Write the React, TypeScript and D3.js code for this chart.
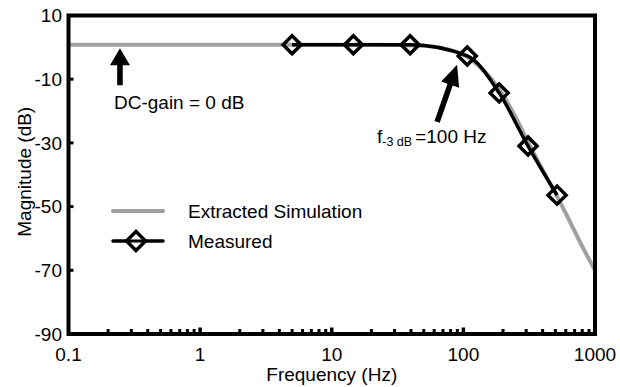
import React from "react";
import * as d3 from "d3";

// ---- data ----
const simFreq = [0.1, 1, 10, 20, 50, 70, 90, 107, 130, 160, 200, 250, 310, 400, 515, 650, 800, 1000];
const simMag = [0.8, 0.8, 0.8, 0.8, 0.5, -0.3, -1.5, -3, -5.7, -9.5, -15, -22, -29.8, -38.5, -46.8, -55, -62.5, -70];
const measFreq = [5, 14.6, 39.4, 107, 187, 310, 515];
const measMag = [0.8, 0.8, 0.8, -2.7, -14.3, -31, -46.4];
const xTickVals = [0.1, 1, 10, 100, 1000];
const xTickLabels = ["0.1", "1", "10", "100", "1000"];
const yTickVals = [10, -10, -30, -50, -70, -90];
const yTickLabels = ["10", "-10", "-30", "-50", "-70", "-90"];
const legendLabels = ["Extracted Simulation", "Measured"];

const W = 620, H = 387;
const FONT = "'Liberation Sans', Arial, Helvetica, sans-serif";

function arrowPath(tx: number, ty: number, sx: number, sy: number, headLen: number, headHalf: number, shaftHalf: number) {
  const dx = tx - sx, dy = ty - sy;
  const L = Math.hypot(dx, dy);
  const ux = dx / L, uy = dy / L;
  const px = -uy, py = ux;
  const bx = tx - ux * headLen, by = ty - uy * headLen;
  const pts = [
    [tx, ty],
    [bx + px * headHalf, by + py * headHalf],
    [bx + px * shaftHalf, by + py * shaftHalf],
    [sx + px * shaftHalf, sy + py * shaftHalf],
    [sx - px * shaftHalf, sy - py * shaftHalf],
    [bx - px * shaftHalf, by - py * shaftHalf],
    [bx - px * headHalf, by - py * headHalf],
  ];
  return "M" + pts.map((p) => p.join(",")).join("L") + "Z";
}

export default function App() {
  const x = d3.scaleLog().domain([0.1, 1000]).range([68.5, 595]);
  const y = d3.scaleLinear().domain([-90, 10]).range([334, 15.5]);

  const simData = simFreq.map((f, i) => [f, simMag[i]] as [number, number]);
  const measData = measFreq.map((f, i) => [f, measMag[i]] as [number, number]);

  const line = d3
    .line<[number, number]>()
    .x((d) => x(d[0]))
    .y((d) => y(d[1]))
    .curve(d3.curveMonotoneX);

  const minor: number[] = [];
  [0.1, 1, 10, 100].forEach((dec) => {
    for (let k = 2; k <= 9; k++) minor.push(dec * k);
  });
  const decades = [1, 10, 100];

  const diamond = (cx: number, cy: number, r: number) =>
    `M${cx},${cy - r}L${cx + r},${cy}L${cx},${cy + r}L${cx - r},${cy}Z`;

  const left = x.range()[0], right = x.range()[1];
  const top = y.range()[1], bottom = y.range()[0];

  const dcTipX = x(0.246), dcTipY = y(0) + 1;
  const f3TipX = x(89.6), f3TipY = y(-5.5);

  return (
    <svg width={W} height={H} style={{ position: "absolute", left: 0, top: 0, background: "#fff" }} fontFamily={FONT}>
      <rect x={0} y={0} width={W} height={H} fill="#fff" />
      <path d={line(simData) || ""} fill="none" stroke="#a0a0a0" strokeWidth={4} />
      <path d={line(measData) || ""} fill="none" stroke="#000" strokeWidth={3.5} />
      {measData.map((d, i) => (
        <path key={i} d={diamond(x(d[0]), y(d[1]), 9)} fill="none" stroke="#000" strokeWidth={3.5} />
      ))}

      <rect x={left} y={top} width={right - left} height={bottom - top} fill="none" stroke="#000" strokeWidth={4} />
      {minor.map((v, i) => (
        <line key={i} x1={x(v)} x2={x(v)} y1={bottom - 1} y2={bottom - 5} stroke="#000" strokeWidth={3} />
      ))}
      {decades.map((d) => (
        <line key={"d" + d} x1={x(d)} x2={x(d)} y1={bottom - 1} y2={bottom - 6.5} stroke="#000" strokeWidth={3.5} />
      ))}
      {yTickVals.slice(1, -1).map((v) => (
        <line key={v} x1={left + 1} x2={left + 5} y1={y(v)} y2={y(v)} stroke="#000" strokeWidth={3} />
      ))}
      {xTickVals.map((v, i) => (
        <text key={v} x={x(v)} y={361} textAnchor="middle" fontSize={19} fill="#000">
          {xTickLabels[i]}
        </text>
      ))}
      {yTickVals.map((v, i) => (
        <text key={v} x={62} y={y(v)} dy="0.35em" textAnchor="end" fontSize={19} fill="#000">
          {yTickLabels[i]}
        </text>
      ))}
      <text x={(left + right) / 2} y={381} textAnchor="middle" fontSize={19} fill="#000">
        Frequency (Hz)
      </text>
      <text transform={`translate(31,${(top + bottom) / 2 - 3}) rotate(-90)`} textAnchor="middle" fontSize={19} fill="#000">
        Magnitude (dB)
      </text>

      <line x1={113} x2={163} y1={211} y2={211} stroke="#a0a0a0" strokeWidth={4} strokeLinecap="round" />
      <text x={188} y={211} dy="0.35em" fontSize={19} fill="#000">{legendLabels[0]}</text>
      <line x1={113} x2={163} y1={241} y2={241} stroke="#000" strokeWidth={3.5} strokeLinecap="round" />
      <path d={diamond(136, 241, 9.5)} fill="#fff" stroke="#000" strokeWidth={3.5} />
      <line x1={129} x2={143} y1={241} y2={241} stroke="#000" strokeWidth={3} />
      <text x={188} y={241} dy="0.35em" fontSize={19} fill="#000">{legendLabels[1]}</text>

      <path d={arrowPath(dcTipX, dcTipY, dcTipX, dcTipY + 37, 17, 10, 2.8)} fill="#000" />
      <text x={114} y={109} fontSize={19} fill="#000">DC-gain = 0 dB</text>
      <path d={arrowPath(f3TipX, f3TipY, f3TipX - 20, f3TipY + 57, 21, 9.5, 2.8)} fill="#000" />
      <text x={377} y={143} fontSize={19} fill="#000">
        f<tspan fontSize={12.5} dy={3}>-3 dB</tspan>
        <tspan dy={-3} dx={3}>=100 Hz</tspan>
      </text>
    </svg>
  );
}
